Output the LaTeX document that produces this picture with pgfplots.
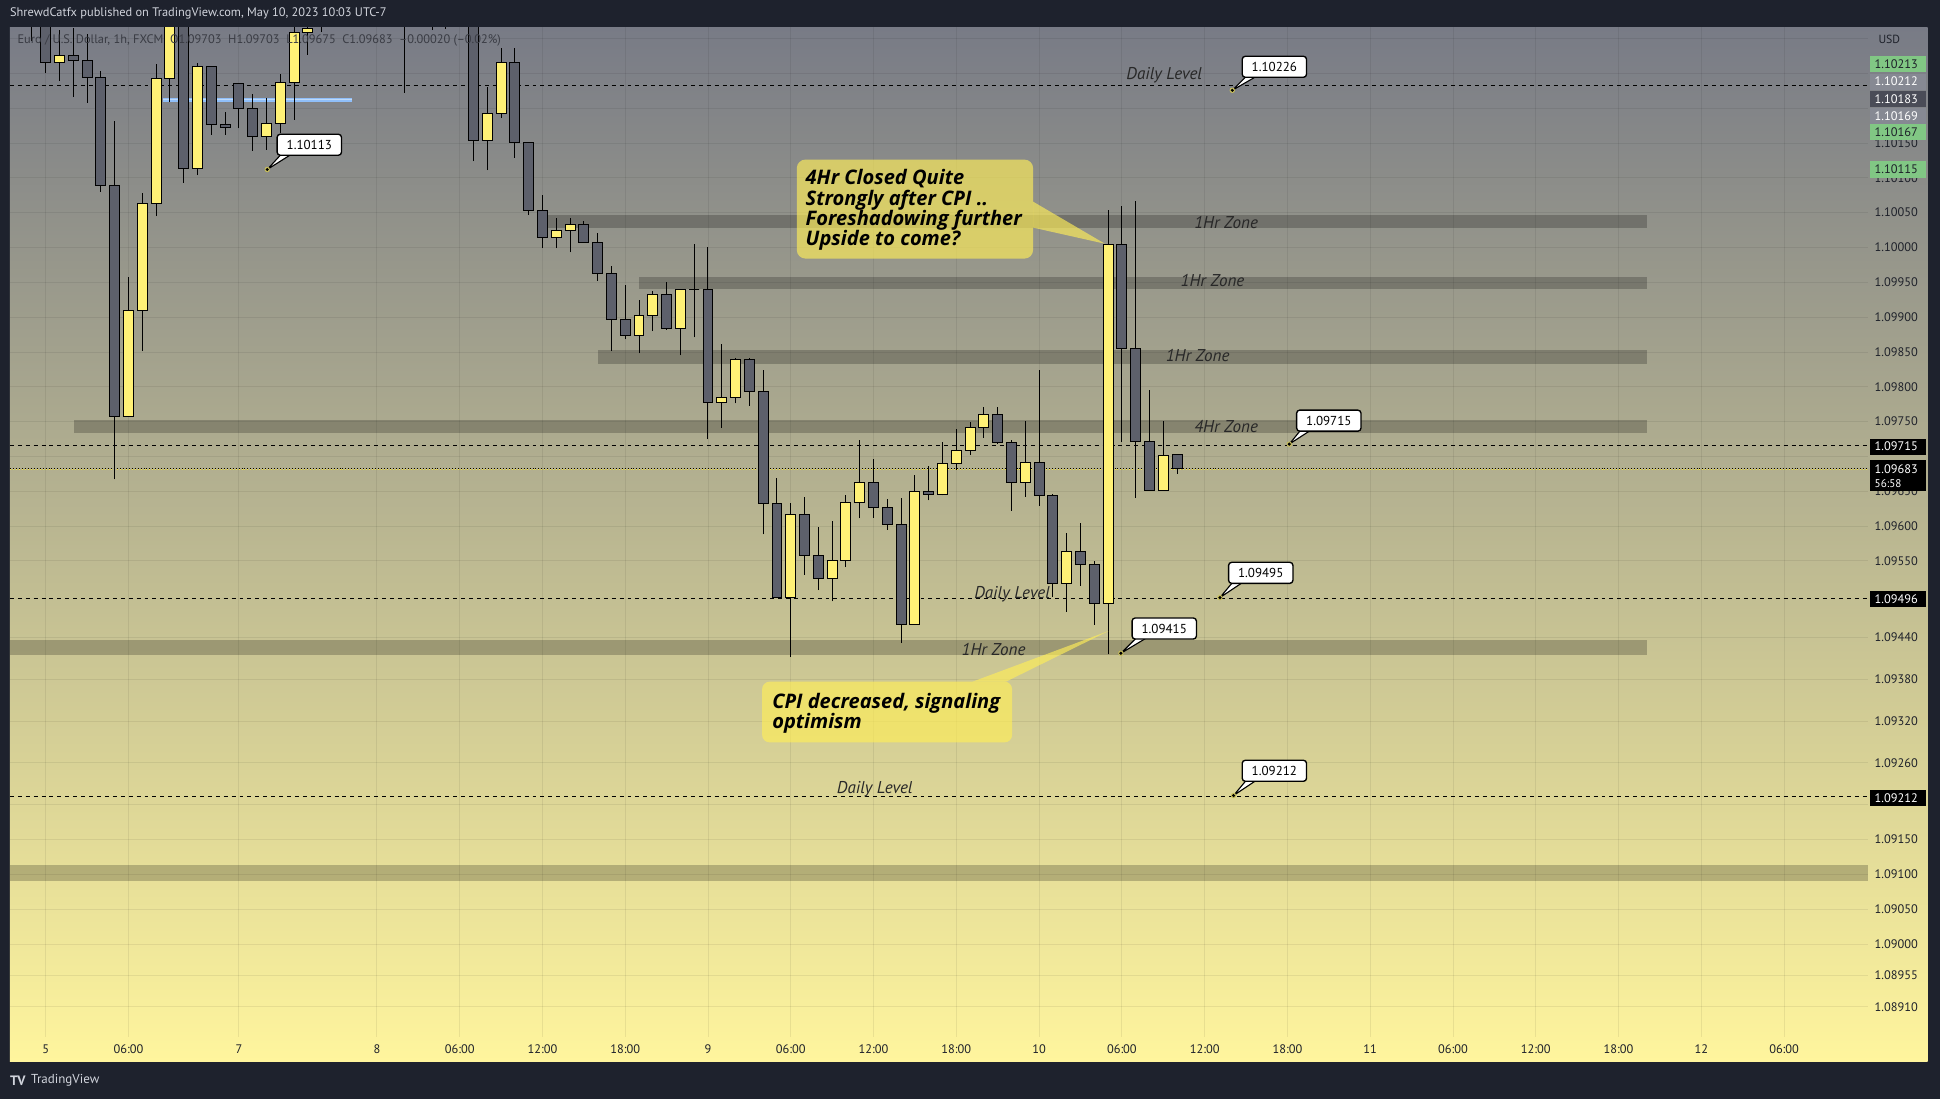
\documentclass[border=0pt]{standalone}
\usepackage{fontspec}
\setmainfont{PT Sans}
\newfontfamily\calloutfamily{Open Sans}
\usepackage{pgfplots}
\usepackage{pgfplotstable}
\pgfplotsset{compat=1.18}

\definecolor{tvdark}{RGB}{30,34,45}
\definecolor{bgtop}{RGB}{120,123,134}
\definecolor{bgbot}{RGB}{255,245,157}
\definecolor{bull}{RGB}{255,241,118}
\definecolor{bear}{RGB}{93,96,107}
\definecolor{axtext}{RGB}{30,33,42}
\definecolor{callfill}{RGB}{255,238,88}
\definecolor{lvgreen}{RGB}{129,199,132}
\definecolor{lvgray}{RGB}{134,137,147}
\definecolor{lvdark}{RGB}{74,76,87}
\definecolor{blueline}{RGB}{144,191,249}
\definecolor{bluecore}{RGB}{190,218,250}
\definecolor{toptext}{RGB}{209,212,220}
\definecolor{zonetext}{RGB}{40,40,40}
\definecolor{headtext}{RGB}{58,60,68}
\definecolor{ringcol}{RGB}{200,190,90}
\definecolor{curyellow}{RGB}{255,235,59}

\pgfplotstableread{
i o h l c
-1 1.10360 1.10400 1.10297 1.10340
0 1.10340 1.10380 1.10251 1.10265
1 1.10265 1.10312 1.10239 1.10276
2 1.10276 1.10315 1.10216 1.10269
3 1.10269 1.10306 1.10208 1.10244
4 1.10244 1.10253 1.10080 1.10089
5 1.10089 1.10181 1.09667 1.09758
6 1.09758 1.09957 1.09758 1.09909
7 1.09909 1.10078 1.09851 1.10063
8 1.10063 1.10263 1.10045 1.10242
9 1.10242 1.10380 1.10209 1.10350
10 1.10350 1.10370 1.10093 1.10113
11 1.10113 1.10265 1.10104 1.10260
12 1.10260 1.10260 1.10162 1.10177
13 1.10176 1.10195 1.10162 1.10172
14 1.10236 1.10236 1.10171 1.10199
15 1.10199 1.10221 1.10139 1.10159
16 1.10159 1.10215 1.10140 1.10178
17 1.10178 1.10249 1.10165 1.10237
18 1.10237 1.10330 1.10183 1.10309
19 1.10309 1.10330 1.10277 1.10315
20 1.10318 1.10340 1.10309 1.10325
21 1.10325 1.10380 1.10320 1.10360
22 1.10360 1.10420 1.10340 1.10400
23 1.10400 1.10450 1.10380 1.10430
24 1.10430 1.10460 1.10390 1.10410
25 1.10410 1.10440 1.10350 1.10370
26 1.10380 1.10420 1.10222 1.10350
27 1.10350 1.10400 1.10330 1.10370
28 1.10370 1.10400 1.10312 1.10380
29 1.10380 1.10420 1.10314 1.10360
30 1.10360 1.10390 1.10325 1.10340
31 1.10340 1.10360 1.10124 1.10154
32 1.10154 1.10231 1.10111 1.10193
33 1.10193 1.10287 1.10186 1.10266
34 1.10266 1.10287 1.10129 1.10151
35 1.10151 1.10151 1.10047 1.10053
36 1.10053 1.10075 1.09999 1.10015
37 1.10015 1.10042 1.09999 1.10024
38 1.10025 1.10043 1.09993 1.10033
39 1.10033 1.10038 1.10007 1.10007
40 1.10007 1.10021 1.09952 1.09963
41 1.09963 1.09973 1.09851 1.09896
42 1.09896 1.09946 1.09868 1.09873
43 1.09873 1.09924 1.09848 1.09903
44 1.09903 1.09937 1.09880 1.09933
45 1.09933 1.09950 1.09882 1.09884
46 1.09884 1.09941 1.09845 1.09939
47 1.09939 1.10005 1.09871 1.09939
48 1.09939 1.10001 1.09725 1.09777
49 1.09777 1.09862 1.09741 1.09785
50 1.09785 1.09842 1.09776 1.09839
51 1.09839 1.09842 1.09773 1.09793
52 1.09793 1.09824 1.09588 1.09632
53 1.09632 1.09669 1.09497 1.09497
54 1.09497 1.09633 1.09412 1.09616
55 1.09616 1.09642 1.09530 1.09558
56 1.09558 1.09599 1.09508 1.09525
57 1.09525 1.09607 1.09492 1.09550
58 1.09550 1.09645 1.09541 1.09634
59 1.09634 1.09723 1.09611 1.09662
60 1.09662 1.09696 1.09612 1.09627
61 1.09627 1.09639 1.09595 1.09602
62 1.09602 1.09640 1.09432 1.09459
63 1.09459 1.09673 1.09459 1.09650
64 1.09650 1.09686 1.09637 1.09646
65 1.09646 1.09720 1.09644 1.09690
66 1.09690 1.09739 1.09681 1.09708
67 1.09708 1.09749 1.09702 1.09741
68 1.09741 1.09771 1.09727 1.09760
69 1.09760 1.09771 1.09718 1.09720
70 1.09720 1.09723 1.09622 1.09663
71 1.09663 1.09751 1.09642 1.09691
72 1.09691 1.09824 1.09629 1.09644
73 1.09644 1.09646 1.09498 1.09518
74 1.09518 1.09590 1.09477 1.09564
75 1.09564 1.09604 1.09514 1.09545
76 1.09545 1.09550 1.09458 1.09489
77 1.09489 1.10054 1.09416 1.10004
78 1.10004 1.10060 1.09721 1.09855
79 1.09855 1.10066 1.09640 1.09721
80 1.09721 1.09796 1.09651 1.09651
81 1.09651 1.09751 1.09651 1.09702
82 1.09703 1.09703 1.09675 1.09683
}\candles

\newcommand\calloutfont{\calloutfamily\fontsize{16.2}{16.3}\selectfont\bfseries\itshape}
\newcommand\zonefont{\fontsize{13.8}{15}\selectfont\itshape}
\newcommand\axfont{\fontsize{10}{12}\selectfont}

\begin{document}
\begin{tikzpicture}
\path[use as bounding box] (0,0) rectangle (1568pt,888pt);
\fill[tvdark] (0,0) rectangle (1568pt,888pt);
\shade[top color=bgtop, bottom color=bgbot] (8pt,30pt) rectangle (1558pt,866pt);

\pgfplotstablegetrowsof{\candles}
\pgfmathtruncatemacro{\lastrow}{\pgfplotsretval-1}

\begin{axis}[
  at={(8pt,50pt)}, anchor=south west,
  scale only axis, width=1502pt, height=816pt,
  xmin=-2.6, xmax=132.1, ymin=1.088668, ymax=1.103162,
  axis line style={draw=none},
  clip mode=individual,
  xtick={0,6,14,24,30,36,42,48,54,60,66,72,78,84,90,96,102,108,114,120,126},
  xticklabels={5,06:00,7,8,06:00,12:00,18:00,9,06:00,12:00,18:00,10,06:00,12:00,18:00,11,06:00,12:00,18:00,12,06:00},
  ytick={1.10300,1.10250,1.10200,1.10150,1.10100,1.10050,1.10000,1.09950,1.09900,1.09850,1.09800,1.09750,1.09700,1.09650,1.09600,1.09550,1.09440,1.09380,1.09320,1.09260,1.09200,1.09150,1.09100,1.09050,1.09000,1.08955,1.08910},
  yticklabels={,,,1.10150,1.10100,1.10050,1.10000,1.09950,1.09900,1.09850,1.09800,1.09750,,1.09650,1.09600,1.09550,1.09440,1.09380,1.09320,1.09260,,1.09150,1.09100,1.09050,1.09000,1.08955,1.08910},
  xtick pos=bottom, ytick pos=right,
  yticklabel pos=right,
  major tick length=0pt,
  tick style={draw=none},
  grid=major,
  major grid style={black, opacity=0.07, line width=0.7pt},
  tick label style={font=\axfont, text=axtext},
  xticklabel style={anchor=base, yshift=-13.5pt},
  yticklabel style={anchor=west, xshift=5pt, inner sep=0pt},
  zone/.style={draw=none, fill=black, fill opacity=0.22},
  level/.style={black, line width=0.8pt, dash pattern=on 3.2pt off 3.2pt},
  wick/.style={black, line width=0.8pt},
  body/.style={draw=black, line width=0.8pt},
]
% zones
\addplot[zone] coordinates {(36.4,1.10028) (116.05,1.10028) (116.05,1.10046) (36.4,1.10046)} --cycle;
\addplot[zone] coordinates {(43.0,1.09941) (116.05,1.09941) (116.05,1.09957) (43.0,1.09957)} --cycle;
\addplot[zone] coordinates {(40.05,1.09833) (116.05,1.09833) (116.05,1.09853) (40.05,1.09853)} --cycle;
\addplot[zone] coordinates {(2.06,1.09734) (116.05,1.09734) (116.05,1.09753) (2.06,1.09753)} --cycle;
\addplot[zone] coordinates {(-2.6,1.09415) (116.05,1.09415) (116.05,1.09436) (-2.6,1.09436)} --cycle;
\addplot[zone] coordinates {(-2.6,1.09091) (132.1,1.09091) (132.1,1.09114) (-2.6,1.09114)} --cycle;
% levels
\addplot[level] coordinates {(-2.6,1.10232) (132.1,1.10232)};
\addplot[level] coordinates {(-2.6,1.09715) (132.1,1.09715)};
\addplot[level] coordinates {(-2.6,1.09496) (132.1,1.09496)};
\addplot[level] coordinates {(-2.6,1.09212) (132.1,1.09212)};
% current price
\addplot[black, line width=0.8pt, dash pattern=on 0.8pt off 1.6pt] coordinates {(-2.6,1.09683) (132.1,1.09683)};
\addplot[curyellow, line width=0.8pt, dash pattern=on 0.8pt off 1.6pt] coordinates {(-2.6,1.096808) (132.1,1.096808)};
% blue line
\addplot[blueline, line width=3.6pt] coordinates {(8.48,1.10212) (22.17,1.10212)};
\addplot[bluecore, line width=1pt] coordinates {(8.48,1.10212) (22.17,1.10212)};
% candles
\pgfplotsinvokeforeach{0,...,\lastrow}{
  \pgfplotstablegetelem{#1}{i}\of\candles \let\ci=\pgfplotsretval
  \pgfplotstablegetelem{#1}{o}\of\candles \let\co=\pgfplotsretval
  \pgfplotstablegetelem{#1}{h}\of\candles \let\ch=\pgfplotsretval
  \pgfplotstablegetelem{#1}{l}\of\candles \let\cl=\pgfplotsretval
  \pgfplotstablegetelem{#1}{c}\of\candles \let\cc=\pgfplotsretval
  \pgfmathsetmacro\xa{\ci-0.36}
  \pgfmathsetmacro\xb{\ci+0.36}
  \ifdim\co pt<\cc pt \def\bodycol{bull}\else\def\bodycol{bear}\fi
  \edef\temp{%
    \noexpand\addplot[wick] coordinates {(\ci,\cl) (\ci,\ch)};
    \noexpand\addplot[body, fill=\bodycol] coordinates {(\xa,\co) (\xb,\co) (\xb,\cc) (\xa,\cc)} --cycle;
  }%
  \temp
}
\end{axis}

\begin{scope}[x=1pt, y=-1pt, yshift=888pt]
% title and footer
\node[anchor=west, inner sep=0, text=toptext, font=\fontsize{10}{12}\selectfont] at (8,11) {ShrewdCatfx published on TradingView.com, May 10, 2023 10:03 UTC-7};
\node[anchor=west, inner sep=0, text=toptext, font=\fontsize{11}{12}\selectfont\bfseries] at (8,873.5) {TV};
\node[anchor=west, inner sep=0, text=toptext, font=\fontsize{10.5}{12}\selectfont] at (25,873.5) {TradingView};
% header
\node[anchor=west, inner sep=0, text=headtext, font=\fontsize{10}{12}\selectfont] at (14,33) {Euro / U.S. Dollar, 1h, FXCM\ \ O1.09703\ \ H1.09703\ \ L1.09675\ \ C1.09683\ \ –0.00020 (–0.02\%)};
\node[inner sep=0, text=axtext, font=\fontsize{9.5}{11}\selectfont] at (1527,32) {USD};

% zone labels
\begin{scope}[every node/.style={inner sep=0, text=zonetext, font=\zonefont}]
\node at (941,61) {Daily Level};
\node at (991,180) {1Hr Zone};
\node at (980,227) {1Hr Zone};
\node at (968,287) {1Hr Zone};
\node at (991,345) {4Hr Zone};
\node at (818,480) {Daily Level};
\node at (803,525) {1Hr Zone};
\node at (707,638) {Daily Level};
\end{scope}

% big callouts
\fill[callfill, fill opacity=0.65] (835,163) -- (893,197) -- (835,184) -- cycle;
\fill[callfill, fill opacity=0.65, rounded corners=7pt] (644,129) rectangle (835,209);
\node[anchor=north west, inner sep=0, align=left, font=\calloutfont, text=black] at (651,137) {4Hr Closed Quite\\Strongly after CPI ..\\Foreshadowing further\\Upside to come?};
\fill[callfill, fill opacity=0.65] (786,551) -- (896,510) -- (813,551) -- cycle;
\fill[callfill, fill opacity=0.65, rounded corners=6pt] (616,551) rectangle (818,600);
\node[anchor=north west, inner sep=0, align=left, font=\calloutfont, text=black] at (624,560) {CPI decreased, signaling\\optimism};

% price callouts
\newcommand\pcall[5]{%
  \filldraw[fill=white, draw=black, line width=0.9pt, line join=round] (#3,#4) -- (#1-23,#2+8) -- (#1-15,#2+8) -- cycle;
  \node[draw=black, line width=1.1pt, fill=white, rounded corners=2.5pt, minimum width=52pt, minimum height=17pt, inner sep=0pt, font=\fontsize{10.5}{12}\selectfont, text=black] at (#1,#2) {#5};
  \fill[ringcol] (#3,#4) circle (2.2pt);
  \fill[black] (#3,#4) circle (1.4pt);
}
\pcall{1030}{54}{996}{73}{1.10226}
\pcall{250}{117}{216}{137}{1.10113}
\pcall{1074}{340}{1042}{359}{1.09715}
\pcall{1019}{463}{986}{483}{1.09495}
\pcall{941}{508}{906}{528}{1.09415}
\pcall{1030}{623}{997}{643}{1.09212}

% price axis coloured labels
\newcommand\plab[4]{%
  \fill[#1] (1511,#3-6.5) rectangle (1557,#3+6.5);
  \node[anchor=west, inner sep=0, text=#2, font=\axfont] at (1515,#3) {#4};
}
\plab{lvgreen}{axtext}{52}{1.10213}
\plab{lvgray}{white}{66}{1.10212}
\plab{lvdark}{white}{80}{1.10183}
\plab{lvgray}{white}{94}{1.10169}
\plab{lvgreen}{axtext}{107}{1.10167}
\plab{lvgreen}{axtext}{137}{1.10115}
\plab{black}{white}{361}{1.09715}
\fill[black] (1511,372) rectangle (1557,397);
\node[anchor=west, inner sep=0, text=white, font=\axfont] at (1515,379) {1.09683};
\node[anchor=west, inner sep=0, text=white, font=\fontsize{9}{11}\selectfont] at (1515,390.5) {56:58};
\plab{black}{white}{484}{1.09496}
\plab{black}{white}{645}{1.09212}
\end{scope}
\end{tikzpicture}
\end{document}
